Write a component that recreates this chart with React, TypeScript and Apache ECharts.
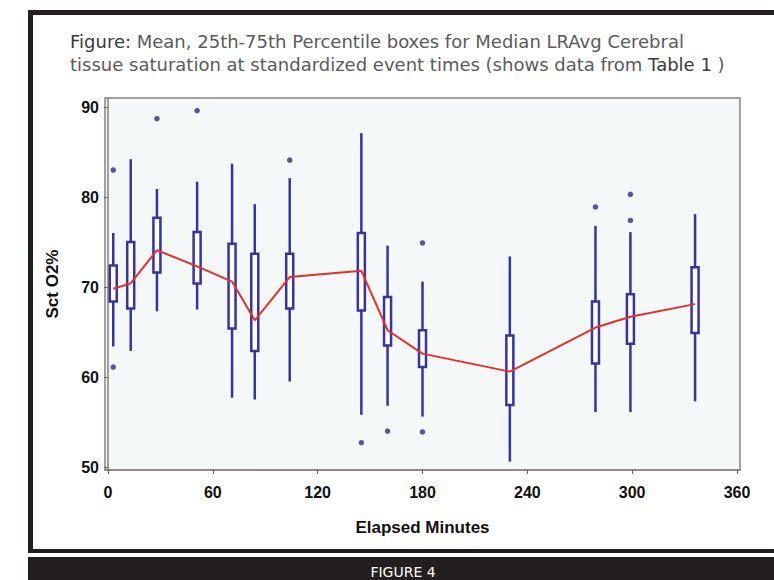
import React, { useEffect, useRef } from "react";
import * as echarts from "echarts";

// Box positions (elapsed minutes) and statistics
const minutes = [3, 13, 28, 51, 71, 84, 104, 145, 160, 180, 230, 279, 299, 336];
const whiskerLow = [63.4, 62.9, 67.3, 67.5, 57.7, 57.5, 59.5, 55.8, 56.8, 55.6, 50.6, 56.1, 56.1, 57.3];
const q1 = [68.4, 67.6, 71.6, 70.4, 65.4, 62.9, 67.6, 67.4, 63.5, 61.1, 56.9, 61.5, 63.7, 64.9];
const q3 = [72.4, 75.0, 77.7, 76.1, 74.8, 73.7, 73.7, 76.0, 68.9, 65.2, 64.6, 68.4, 69.2, 72.2];
const whiskerHigh = [76.0, 84.2, 80.9, 81.7, 83.7, 79.2, 82.1, 87.1, 74.6, 70.6, 73.4, 76.8, 76.1, 78.1];
const means = [69.8, 70.4, 74.1, 72.3, 70.6, 66.3, 71.1, 71.8, 65.2, 62.6, 60.6, 65.5, 66.7, 68.1];

const outlierMinutes = [3, 3, 28, 51, 104, 145, 160, 180, 180, 279, 299, 299];
const outlierValues = [83.0, 61.1, 88.7, 89.6, 84.1, 52.7, 54.0, 74.9, 53.9, 78.9, 80.3, 77.4];

const xTicks = [0, 60, 120, 180, 240, 300, 360];
const yTicks = [50, 60, 70, 80, 90];

const titleLine1 = "{b|Figure:} Mean, 25th-75th Percentile boxes for Median LRAvg Cerebral";
const titleLine2 = "tissue saturation at standardized event times (shows data from {b|Table 1} )";
const xName = "Elapsed Minutes";
const yName = "Sct O2%";
const banner = "FIGURE 4";

const BLUE = "#3a32a0";
const DOT = "#2e2a85";
const RED = "#e5302a";
const FRAME = "#231f20";
const AXIS_FONT = "'Liberation Sans', Arial, sans-serif";
const TITLE_FONT = "'DejaVu Sans', 'Noto Sans', sans-serif";

export default function App() {
  const ref = useRef<HTMLDivElement>(null);

  useEffect(() => {
    const chart = echarts.init(ref.current!, null, { renderer: "svg" });
    const boxData = minutes.map((m, i) => [m, whiskerLow[i], q1[i], q3[i], whiskerHigh[i]]);
    const meanData = minutes.map((m, i) => [m, means[i]]);
    const outData = outlierMinutes.map((m, i) => [m, outlierValues[i]]);

    chart.setOption({
      animation: false,
      backgroundColor: "#ffffff",
      title: {
        text: titleLine1 + "\n" + titleLine2,
        left: 70,
        top: 30,
        padding: 0,
        textStyle: {
          fontFamily: TITLE_FONT,
          fontSize: 18,
          fontWeight: "normal",
          color: "#5a5a5a",
          lineHeight: 23,
          rich: {
            b: {
              fontFamily: TITLE_FONT,
              fontSize: 18,
              lineHeight: 23,
              color: "#3a3a3a",
            },
          },
        },
      },
      grid: {
        left: 105,
        right: 34,
        top: 98,
        bottom: 110,
        show: true,
        backgroundColor: "#f4f8f8",
        borderColor: "#8a817c",
        borderWidth: 1.5,
      },
      xAxis: {
        type: "value",
        min: -1.72,
        max: 361.72,
        splitLine: { show: false },
        axisLine: { show: true, lineStyle: { color: "#8a817c", width: 1.5 } },
        axisTick: { show: true, customValues: xTicks, length: 4, lineStyle: { color: "#666" } },
        axisLabel: {
          customValues: xTicks,
          margin: 14,
          fontFamily: AXIS_FONT,
          fontWeight: "bold",
          fontSize: 16,
          color: "#111",
        },
        name: xName,
        nameLocation: "middle",
        nameGap: 49,
        nameTextStyle: { fontFamily: AXIS_FONT, fontWeight: "bold", fontSize: 17, color: "#111" },
      },
      yAxis: {
        type: "value",
        min: 49.67,
        max: 91,
        splitLine: { show: false },
        axisLine: { show: true, lineStyle: { color: "#8a817c", width: 1.5 } },
        axisTick: { show: true, customValues: yTicks, length: 4, lineStyle: { color: "#666" } },
        axisLabel: {
          customValues: yTicks,
          margin: 6,
          fontFamily: AXIS_FONT,
          fontWeight: "bold",
          fontSize: 16,
          color: "#111",
        },
        name: yName,
        nameLocation: "middle",
        nameRotate: 90,
        nameGap: 44,
        nameTextStyle: { fontFamily: AXIS_FONT, fontWeight: "bold", fontSize: 17, color: "#111" },
      },
      graphic: [
        { type: "rect", silent: true, shape: { x: 28, y: 10, width: 746, height: 5 }, style: { fill: FRAME } },
        { type: "rect", silent: true, shape: { x: 28, y: 10, width: 5, height: 543 }, style: { fill: FRAME } },
        { type: "rect", silent: true, shape: { x: 28, y: 549, width: 746, height: 4 }, style: { fill: FRAME } },
        { type: "rect", silent: true, shape: { x: 28, y: 557, width: 746, height: 23 }, style: { fill: FRAME } },
        {
          type: "text",
          silent: true,
          x: 403,
          y: 572,
          style: {
            text: banner,
            fill: "#ffffff",
            fontFamily: "'DejaVu Sans', sans-serif",
            fontSize: 14,
            align: "center",
            verticalAlign: "middle",
          },
        },
      ],
      series: [
        {
          type: "custom",
          name: "boxes",
          data: boxData,
          encode: { x: 0, y: [1, 2, 3, 4] },
          z: 2,
          renderItem: (params: any, api: any) => {
            const x = api.value(0);
            const lo = api.coord([x, api.value(1)]);
            const b1 = api.coord([x, api.value(2)]);
            const b3 = api.coord([x, api.value(3)]);
            const hi = api.coord([x, api.value(4)]);
            const w = 7;
            return {
              type: "group",
              children: [
                {
                  type: "line",
                  shape: { x1: lo[0], y1: lo[1], x2: b1[0], y2: b1[1] },
                  style: { stroke: BLUE, lineWidth: 2.5 },
                },
                {
                  type: "line",
                  shape: { x1: b3[0], y1: b3[1], x2: hi[0], y2: hi[1] },
                  style: { stroke: BLUE, lineWidth: 2.5 },
                },
                {
                  type: "rect",
                  shape: { x: b3[0] - w / 2, y: b3[1], width: w, height: b1[1] - b3[1] },
                  style: { fill: "#ffffff", stroke: BLUE, lineWidth: 2.5 },
                },
              ],
            };
          },
        },
        {
          type: "line",
          name: "mean",
          data: meanData,
          showSymbol: false,
          symbol: "none",
          z: 4,
          lineStyle: { color: RED, width: 2 },
        },
        {
          type: "scatter",
          name: "outliers",
          data: outData,
          symbol: "circle",
          symbolSize: 5.5,
          z: 3,
          itemStyle: { color: DOT },
        },
      ],
    });

    return () => chart.dispose();
  }, []);

  return (
    <div
      ref={ref}
      style={{ position: "fixed", left: 0, top: 0, width: 774, height: 580, background: "#ffffff" }}
    />
  );
}
